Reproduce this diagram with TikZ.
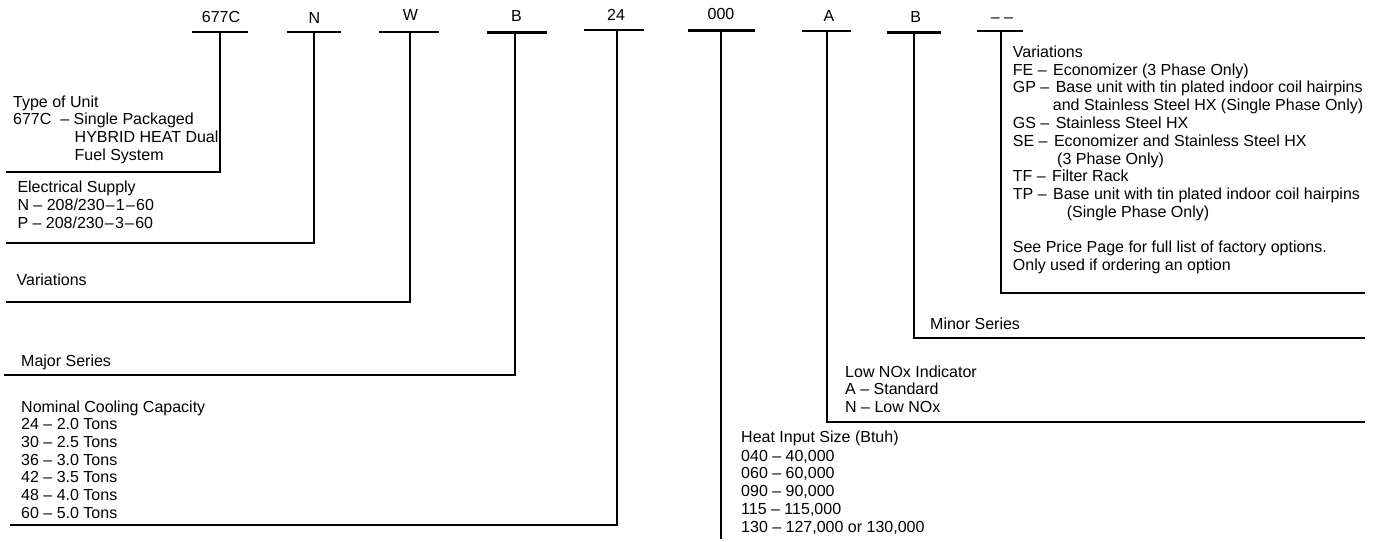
\documentclass[tikz,border=0pt]{standalone}
\usepackage{fontspec}
\setmainfont{Liberation Sans}
\newcommand{\dd}{\kern1.2pt–\kern1.2pt}
\begin{document}
\begin{tikzpicture}[x=1pt,y=-1pt]
\tikzset{
  lbl/.style={anchor=base, inner sep=0pt, font=\fontsize{16}{17.75}\selectfont},
  txt/.style={anchor=base west, inner sep=0pt, font=\fontsize{16}{17.75}\selectfont},
  bar/.style={line width=2.4pt},
  lead/.style={line width=2pt, line join=miter},
}
\useasboundingbox (0,0) rectangle (1383,541);
% code digits: name/label/labelx/labely/vx/barleft/barright/bary/endx/endy
\foreach \n/\t/\lx/\ly/\vx/\bl/\br/\by/\ex/\ey in {
  a/677C/221/22.3/220/191.5/247.5/31.7/6/172.3,
  b/N/314.5/23.3/313.5/286.7/340.7/32/6/243.3,
  c/W/410.5/20/410/379/438.5/32/5.5/301.7,
  d/B/516.5/21/515/487/546.7/32.3/4/375,
  e/24/616/20.7/617/584/644/29.7/10/525,
  f/000/721/19.3/721/688.3/755/30.3/721/539,
  g/A/829/21/827/802.3/850.7/31/1365/422.3,
  h/B/915.7/22.7/914/886.7/941/32.3/1365/337.7,
  i/– –/1002/22/1001/977/1022.7/31/1365/293.3}{
  \node[lbl] (l\n) at (\lx,\ly) {\t};
  \coordinate (bw\n) at (\bl,\by);
  \coordinate (be\n) at (\br,\by);
  \coordinate (t\n) at (\vx,\by);
  \coordinate (e\n) at (\ex,\ey);
  \draw[bar] (bw\n) -- (be\n);
  \draw[lead] (t\n) |- (e\n);
}
% Type of unit
\node[txt] (tu1) at (13,107.3) {Type of Unit};
\node[txt] (tu2) at (13,124.9) {677C \ – Single Packaged};
\node[txt] (tu3) at (74.5,142.4) {HYBRID HEAT Dual};
\node[txt] (tu4) at (74.5,160.2) {Fuel System};
% Electrical supply
\node[txt] (es1) at (17.3,192.9) {Electrical Supply};
\node[txt] (es2) at (17.3,210.6) {N – 208/230\dd 1\dd 60};
\node[txt] (es3) at (17.3,228.3) {P – 208/230\dd 3\dd 60};
% Variations (left)
\node[txt] (vl) at (16.5,285.5) {Variations};
% Major series
\node[txt] (ms) at (21,366) {Major Series};
% Nominal cooling capacity
\foreach \s [count=\k from 0] in {Nominal Cooling Capacity, 24 – 2.0 Tons, 30 – 2.5 Tons, 36 – 3.0 Tons, 42 – 3.5 Tons, 48 – 4.0 Tons, 60 – 5.0 Tons}{
  \node[txt] (nc\k) at (21,412.3+17.65*\k) {\s};
}
% Heat input
\foreach \s/\yy [count=\k from 0] in {{Heat Input Size (Btuh)}/442.3, {040 – 40,000}/461.3, {060 – 60,000}/478.9, {090 – 90,000}/496.6, {115 – 115,000}/514.5, {130 – 127,000 or 130,000}/532.3}{
  \node[txt] (hi\k) at (741,\yy) {\s};
}
% Low NOx
\node[txt] (ln1) at (845,377.3) {Low NOx Indicator};
\node[txt] (ln2) at (845,394.9) {A – Standard};
\node[txt] (ln3) at (845,412.5) {N – Low NOx};
% Minor series
\node[txt] (mn) at (930,329.6) {Minor Series};
% Variations (right)
\node[txt] (vr0) at (1012.7,57.3) {Variations};
\node[txt] (vr1) at (1012.7,75.1) {FE – \kern2pt Economizer (3 Phase Only)};
\node[txt] (vr2) at (1012.7,92.9) {GP – \kern2pt Base unit with tin plated indoor coil hairpins};
\node[txt] (vr3) at (1052.7,110.6) {and Stainless Steel HX (Single Phase Only)};
\node[txt] (vr4) at (1012.7,128.4) {GS – \kern2pt Stainless Steel HX};
\node[txt] (vr5) at (1012.7,146.2) {SE – \kern2pt Economizer and Stainless Steel HX};
\node[txt] (vr6) at (1057,164.0) {(3 Phase Only)};
\node[txt] (vr7) at (1012.7,181.8) {TF – \kern2pt Filter Rack};
\node[txt] (vr8) at (1012.7,199.5) {TP – \kern2pt Base unit with tin plated indoor coil hairpins};
\node[txt] (vr9) at (1066.7,217.3) {(Single Phase Only)};
\node[txt] (vr10) at (1012.7,252.9) {See Price Page for full list of factory options.};
\node[txt] (vr11) at (1012.7,270.6) {Only used if ordering an option};
\end{tikzpicture}
\end{document}
